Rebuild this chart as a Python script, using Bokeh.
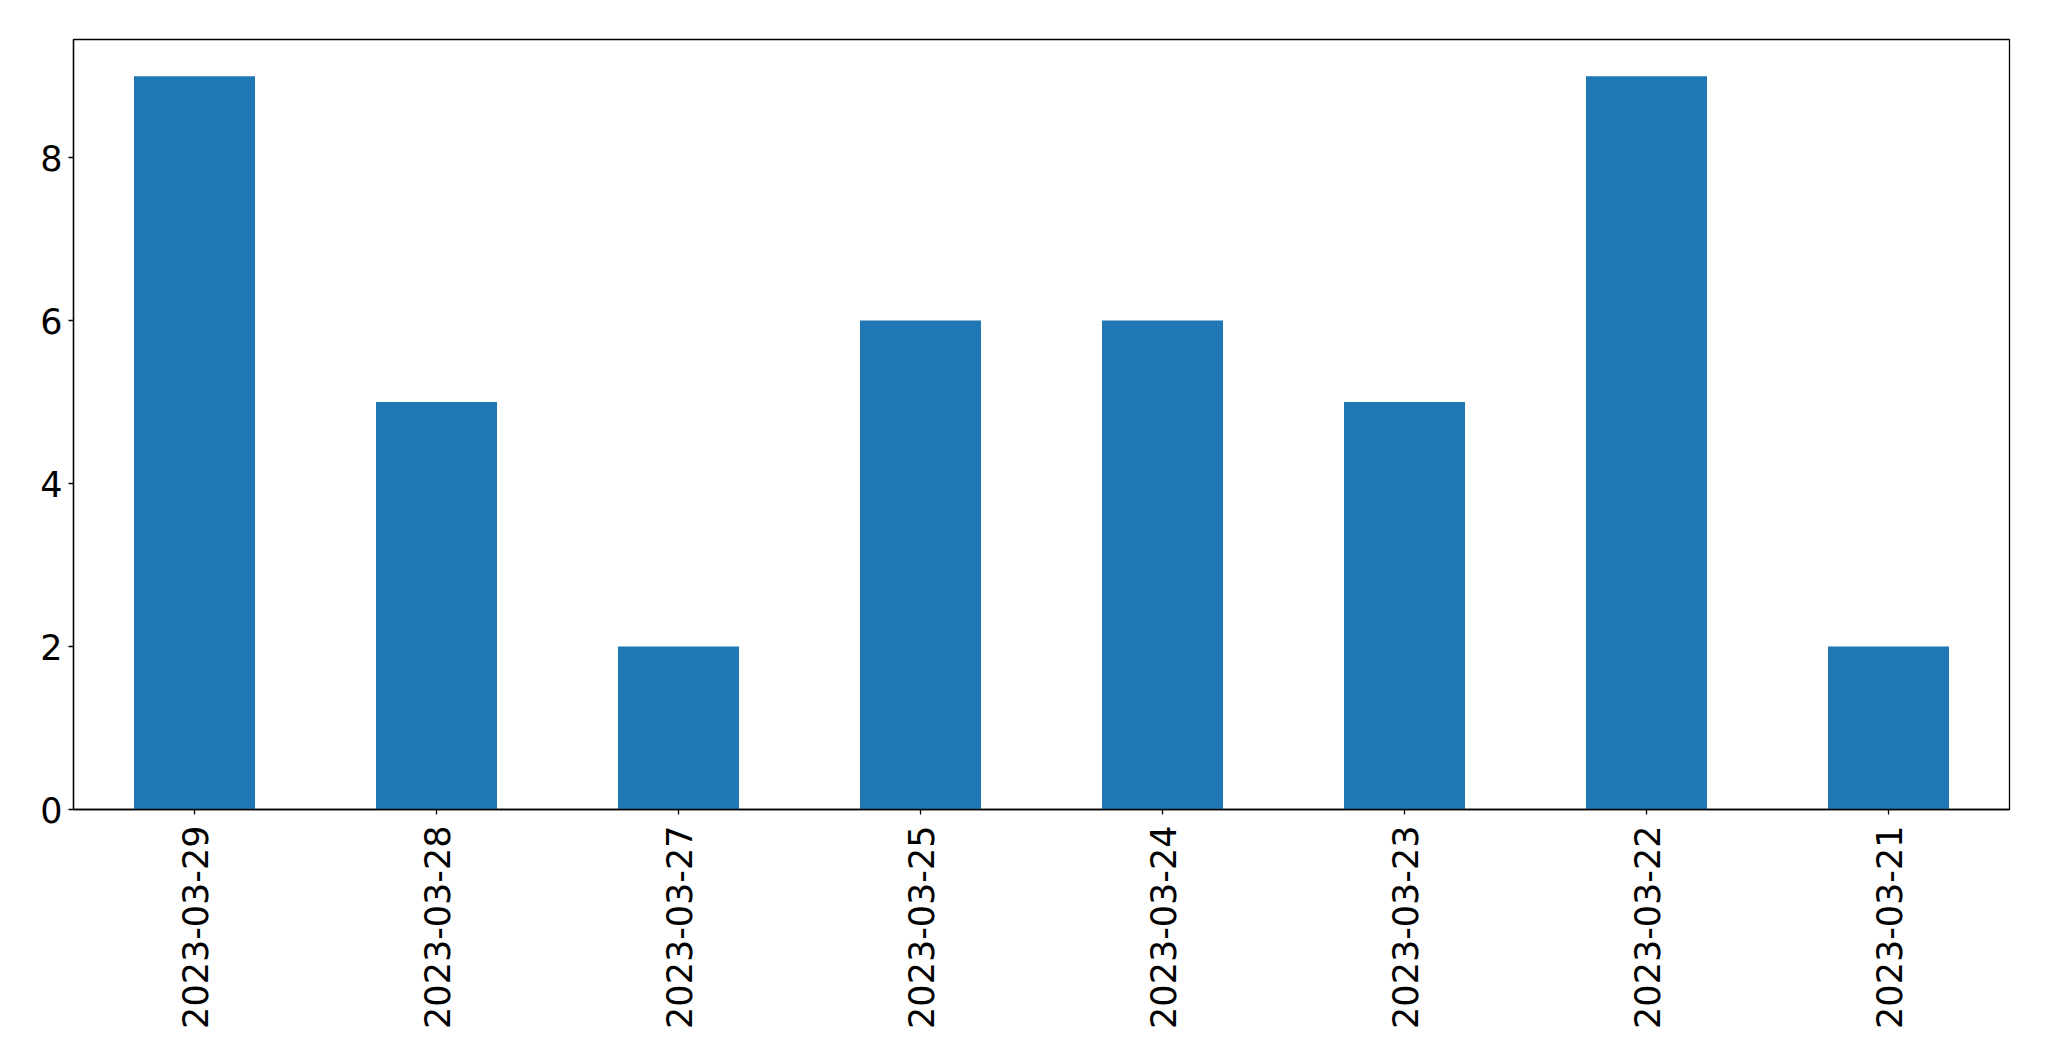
import math
from bokeh.plotting import figure
from bokeh.models import Range1d, FixedTicker, ColumnDataSource
from bokeh.embed import file_html
from bokeh.resources import INLINE

dates = ["2023-03-29", "2023-03-28", "2023-03-27", "2023-03-25",
         "2023-03-24", "2023-03-23", "2023-03-22", "2023-03-21"]
counts = [9, 5, 2, 6, 6, 5, 9, 2]
y_ticks = [0, 2, 4, 6, 8]

src = ColumnDataSource(dict(date=dates, count=counts))

p = figure(x_range=dates, y_range=Range1d(0, 9.45),
           width=2033, height=1045,
           min_border_left=73, min_border_right=24,
           min_border_top=39, min_border_bottom=236,
           output_backend="svg", toolbar_location=None)

p.vbar(x="date", top="count", width=0.5, source=src,
       fill_color="#1f77b4", line_color=None)

p.xgrid.visible = False
p.ygrid.visible = False
p.outline_line_color = "black"
p.outline_line_width = 1.3
p.outline_line_alpha = 1.0
p.background_fill_color = "white"
p.border_fill_color = "white"

for ax in (p.xaxis[0], p.yaxis[0]):
    ax.axis_line_color = "black"
    ax.axis_line_width = 1.3
    ax.major_tick_line_color = "black"
    ax.major_tick_line_width = 1.3
    ax.major_tick_out = 5
    ax.major_tick_in = 0
    ax.minor_tick_line_color = None
    ax.major_label_text_font = "DejaVu Sans"
    ax.major_label_text_font_size = "35px"
    ax.major_label_text_color = "black"

p.yaxis[0].ticker = FixedTicker(ticks=y_ticks)
p.yaxis[0].major_label_standoff = 6
p.xaxis[0].major_label_orientation = math.pi / 2
p.xaxis[0].major_label_standoff = 11

open("out.html", "w").write(file_html(p, INLINE))
